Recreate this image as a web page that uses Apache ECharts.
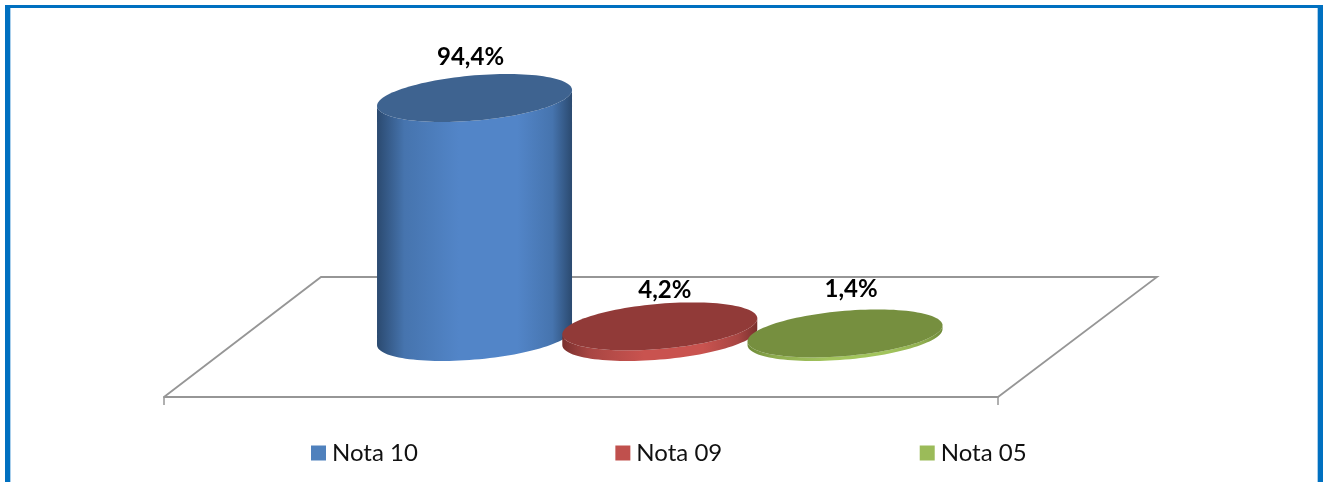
<!DOCTYPE html>
<html>
<head>
<meta charset="utf-8">
<style>html,body{margin:0;padding:0;background:#fff}#c{width:1326px;height:482px}</style>
<script src="https://cdn.jsdelivr.net/npm/echarts@6/dist/echarts.min.js"></script>
</head>
<body>
<div id="c"></div>
<script>
const seriesNames = ['Nota 10', 'Nota 09', 'Nota 05'];
const seriesValues = [94.4, 4.2, 1.4];

const baseColors = ['#5285C8', '#C9534F', '#A2C45D'];
const midColors = ['#4674AE', '#A84643', '#8FAD50'];
const legendColors = ['#4F81BD', '#C0504D', '#9BBB59'];
const topColors = ['#3E6390', '#913A38', '#768F3F'];
const edgeColors = ['#2B4A70', '#7A302E', '#6E8A38'];
const labelShift = [[-4, -41], [5, -36], [6, -44]];

const RX = 0.5263, SHEAR = 0.082, RY = 0.232;
const FONT = 'Lato, Carlito, Calibri, sans-serif';

function ellipsePts(cx, cy, a, from, to, n) {
  const pts = [];
  for (let k = 0; k <= n; k++) {
    const t = from + (to - from) * k / n;
    pts.push([cx + a * Math.cos(t), cy - a * SHEAR * Math.cos(t) - a * RY * Math.sin(t)]);
  }
  return pts;
}

function cylinder(idx) {
  return function (params, api) {
    const i = api.value(0), v = api.value(1);
    const base = api.coord([i, 0]);
    const top = api.coord([i, v]);
    const a = api.size([1, 0])[0] * RX;
    const side = ellipsePts(base[0], base[1], a, Math.PI, 2 * Math.PI, 60)
      .concat(ellipsePts(top[0], top[1], a, 2 * Math.PI, Math.PI, 60));
    const cap = ellipsePts(top[0], top[1], a, 0, 2 * Math.PI, 120);
    const shift = labelShift[idx];
    return {
      type: 'group',
      children: [
        {
          type: 'polygon',
          shape: { points: side },
          style: {
            fill: {
              type: 'linear', x: 0, y: 0, x2: 1, y2: 0,
              colorStops: [
                { offset: 0, color: edgeColors[idx] },
                { offset: 0.14, color: midColors[idx] },
                { offset: 0.42, color: baseColors[idx] },
                { offset: 0.72, color: baseColors[idx] },
                { offset: 0.9, color: midColors[idx] },
                { offset: 1, color: edgeColors[idx] }
              ]
            }
          }
        },
        { type: 'polygon', shape: { points: cap }, style: { fill: topColors[idx] } },
        {
          type: 'text',
          style: {
            x: top[0] + shift[0], y: top[1] + shift[1],
            text: v.toFixed(1).replace('.', ',') + '%',
            fill: '#000', font: 'bold 24px ' + FONT,
            align: 'center', verticalAlign: 'middle'
          }
        }
      ]
    };
  };
}

const frame = '#0070C0';
const tint = '#A9CFEC';
const axisGrey = '#969696';
const chart = echarts.init(document.getElementById('c'), null, { renderer: 'canvas' });
chart.setOption({
  animation: false,
  backgroundColor: '#fff',
  grid: [
    { left: 381.9, top: 83.8, width: 555.75, height: 253.2 },
    { left: 164, top: 277, width: 834, height: 120 }
  ],
  xAxis: [
    { gridIndex: 0, type: 'category', data: seriesNames, show: false },
    {
      gridIndex: 1, type: 'category', data: [''],
      axisLine: { show: true, lineStyle: { color: axisGrey, width: 2 } },
      axisTick: { show: true, interval: 0, length: 8, lineStyle: { color: axisGrey, width: 1.5 } },
      axisLabel: { show: false }
    }
  ],
  yAxis: [
    { gridIndex: 0, type: 'value', min: 0, max: 100, show: false },
    { gridIndex: 1, type: 'value', show: false }
  ],
  legend: {
    left: 311, top: 441, padding: 0, icon: 'rect', itemWidth: 15, itemHeight: 15, itemGap: 197.5,
    data: seriesNames.map((name, idx) => ({ name, itemStyle: { color: legendColors[idx] } })),
    textStyle: { fontFamily: FONT, fontSize: 24, color: '#111', padding: [0, 0, 0, 1] }
  },
  graphic: [
    { type: 'polyline', silent: true, z: 0,
      shape: { points: [[164, 397], [321, 277], [1157, 277], [998, 397]] },
      style: { stroke: axisGrey, lineWidth: 1.8, fill: null } },
    { type: 'rect', silent: true, z: 10, shape: { x: 5, y: 5, width: 5, height: 477 }, style: { fill: frame } },
    { type: 'rect', silent: true, z: 10, shape: { x: 1318, y: 5, width: 5, height: 477 }, style: { fill: frame } },
    { type: 'rect', silent: true, z: 10, shape: { x: 5, y: 5, width: 1318, height: 3 }, style: { fill: frame } },
    { type: 'rect', silent: true, z: 10, shape: { x: 10, y: 8, width: 1, height: 474 }, style: { fill: tint } },
    { type: 'rect', silent: true, z: 10, shape: { x: 1317, y: 8, width: 1, height: 474 }, style: { fill: tint } }
  ],
  series: seriesNames.map((name, idx) => ({
    name,
    type: 'custom',
    coordinateSystem: 'cartesian2d',
    xAxisIndex: 0, yAxisIndex: 0,
    itemStyle: { color: legendColors[idx] },
    encode: { x: 0, y: 1 },
    data: [[idx, seriesValues[idx]]],
    renderItem: cylinder(idx)
  }))
});
</script>
</body>
</html>
